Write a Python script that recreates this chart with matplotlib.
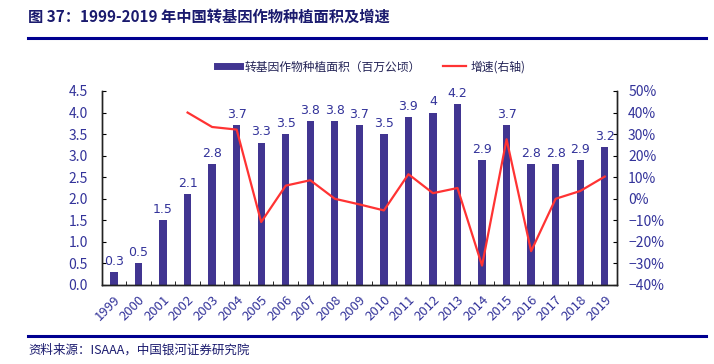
import matplotlib.pyplot as plt
from matplotlib.lines import Line2D
from matplotlib.ticker import FuncFormatter, FixedLocator
import numpy as np

plt.rcParams['font.family'] = ['Noto Sans CJK SC', 'DejaVu Sans']

years = ['1999', '2000', '2001', '2002', '2003', '2004', '2005', '2006', '2007', '2008', '2009',
         '2010', '2011', '2012', '2013', '2014', '2015', '2016', '2017', '2018', '2019']
area = [0.3, 0.5, 1.5, 2.1, 2.8, 3.7, 3.3, 3.5, 3.8, 3.8, 3.7,
        3.5, 3.9, 4.0, 4.2, 2.9, 3.7, 2.8, 2.8, 2.9, 3.2]
area_labels = ['0.3', '0.5', '1.5', '2.1', '2.8', '3.7', '3.3', '3.5', '3.8', '3.8', '3.7',
               '3.5', '3.9', '4', '4.2', '2.9', '3.7', '2.8', '2.8', '2.9', '3.2']
# growth rate (%), starts in 2002
growth_years = years[3:]
growth = [40.0, 33.3, 32.1, -10.8, 6.1, 8.6, 0.0, -2.6, -5.4, 11.4, 2.6,
          5.0, -31.0, 27.6, -24.3, 0.0, 3.6, 10.3]

BAR_C = '#413591'
LINE_C = '#FF3333'
TXT_C = '#33339A'
NAVY = '#000090'

fig = plt.figure(figsize=(7.14, 3.64), dpi=100)
ax = fig.add_axes([101.7 / 714, 1 - 285 / 364, (617 - 101.7) / 714, (285 - 91) / 364])
ax2 = ax.twinx()

x = np.arange(len(years))
ax.bar(x, area, width=0.3, color=BAR_C, zorder=2)
for xi, v, lab in zip(x, area, area_labels):
    ax.text(xi, v + 0.1, lab, ha='center', va='bottom', fontsize=9, color=TXT_C,
            family=['DejaVu Sans'])

gx = np.arange(3, len(years))
ax2.plot(gx, growth, color=LINE_C, lw=1.6, zorder=3)

ax.set_xlim(-0.5, len(years) - 0.5)
ax.set_ylim(0, 4.5)
ax.set_yticks(np.arange(0, 4.51, 0.5))
ax.yaxis.set_major_formatter(FuncFormatter(lambda v, p: f'{v:.1f}'))
ax2.set_ylim(-40, 50)
ax2.set_yticks(np.arange(-40, 51, 10))
ax2.yaxis.set_major_formatter(FuncFormatter(lambda v, p: f'{v:.0f}%'.replace('-', '\u2212')))

ax.set_xticks(x)
ax.set_xticklabels(years, rotation=45, ha='right', rotation_mode='anchor', fontsize=9.5, color=TXT_C)
ax.tick_params(axis='x', length=0, pad=6)
ax.xaxis.set_minor_locator(FixedLocator(np.arange(0.5, len(years) - 1, 1)))
ax.tick_params(axis='x', which='minor', direction='in', length=3)
ax.tick_params(axis='y', direction='in', length=3, labelsize=10, labelcolor=TXT_C, pad=10)
ax2.tick_params(axis='y', direction='in', length=3, labelsize=10, labelcolor=TXT_C, pad=8)

for a in (ax, ax2):
    a.spines['top'].set_visible(False)
    for s in ('left', 'right', 'bottom'):
        a.spines[s].set_color('#222222')
        a.spines[s].set_linewidth(1.0)

# legend
handles = [Line2D([0], [0], color=BAR_C, lw=5),
           Line2D([0], [0], color=LINE_C, lw=1.6)]
fig.legend(handles, ['转基因作物种植面积（百万公顷）', '增速(右轴)'], loc='center',
           bbox_to_anchor=(0.52, 1 - 67 / 364), ncol=2, frameon=False, fontsize=8.5,
           handlelength=2.0, columnspacing=1.8, handletextpad=0.4, labelcolor='#222255')

# title, rules, source
fig.text(28 / 714, 1 - 17 / 364, '图 37：1999-2019 年中国转基因作物种植面积及增速', fontsize=11,
         fontweight='bold', color='#1a1a6e', va='center', ha='left')
fig.add_artist(Line2D([28 / 714, 706 / 714], [1 - 38 / 364, 1 - 38 / 364], color=NAVY, lw=2.2))
fig.add_artist(Line2D([28 / 714, 706 / 714], [1 - 336 / 364, 1 - 336 / 364], color=NAVY, lw=2.2))
fig.text(28 / 714, 1 - 350 / 364, '资料来源：ISAAA，中国银河证券研究院', fontsize=9,
         style='italic', color='#1a1a6e', va='center', ha='left')

fig.savefig('out.png', dpi=100)
